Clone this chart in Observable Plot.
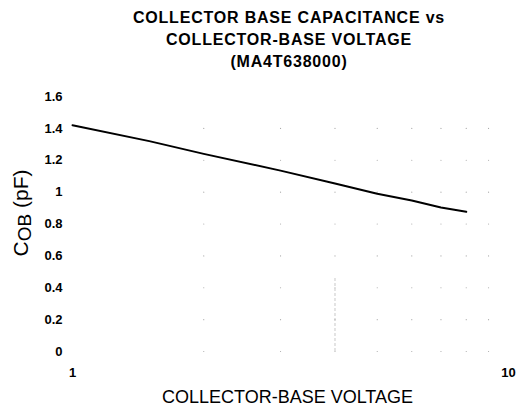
<!DOCTYPE html>
<html>
<head>
<meta charset="utf-8">
<script src="https://cdn.jsdelivr.net/npm/d3@7"></script>
<script src="https://cdn.jsdelivr.net/npm/@observablehq/plot@0.6"></script>
<style>
  body { margin: 0; background: #fff; font-family: "Liberation Sans", Arial, sans-serif; }
  #title { width: 516px; box-sizing: border-box; padding: 7px 0 0 62px; text-align: center;
           font-weight: bold; font-size: 16px; letter-spacing: 0.8px; line-height: 22px; color: #000; }
</style>
</head>
<body>
<div id="title">COLLECTOR BASE CAPACITANCE vs<br>COLLECTOR-BASE VOLTAGE<br>(MA4T638000)</div>
<div id="chart"></div>
<script>
const voltage = [1, 1.5, 2, 3, 4, 5, 6, 7, 8];
const capacitance = [1.42, 1.32, 1.24, 1.135, 1.054, 0.99, 0.947, 0.903, 0.877];
const yTicks = [0, 0.2, 0.4, 0.6, 0.8, 1, 1.2, 1.4, 1.6];
const xTicks = [1, 10];
const xGrid = [2, 3, 4, 5, 6, 7, 8, 9];
const yGrid = [0, 0.2, 0.4, 0.6, 0.8, 1, 1.2, 1.4];
const xTitle = "COLLECTOR-BASE VOLTAGE";

const curve = voltage.map((v, i) => ({v, c: capacitance[i]}));
const gridPts = xGrid.flatMap(x => yGrid.map(y => ({x, y})));

const plot = Plot.plot({
  width: 516,
  height: 338,
  marginTop: 23,
  marginBottom: 60,
  marginLeft: 72,
  marginRight: 8,
  style: {fontFamily: "Liberation Sans, Arial, sans-serif", background: "#fff", color: "#000"},
  x: {type: "log", domain: [1, 10]},
  y: {domain: [0, 1.6]},
  marks: [
    Plot.dot(gridPts, {x: "x", y: "y", r: 0.6, fill: "#aaa", stroke: null}),
    Plot.ruleX([4], {y1: 0, y2: 0.46, stroke: "#bbb", strokeWidth: 0.8, strokeDasharray: "3,2"}),
    Plot.line(curve, {x: "v", y: "c", stroke: "#000", strokeWidth: 2}),
    Plot.axisY({ticks: yTicks, tickSize: 0, tickPadding: 10, fontSize: 13, fontWeight: "bold",
                tickFormat: d => String(d), label: null}),
    Plot.axisX({ticks: xTicks, tickSize: 0, tickPadding: 16, fontSize: 13, fontWeight: "bold",
                tickFormat: d => String(d), label: null}),
    Plot.text([xTitle], {frameAnchor: "bottom", dx: -3, dy: 51, fontSize: 18, text: d => d, fill: "#000"})
  ]
});
document.getElementById("chart").appendChild(plot);

// Y axis title with subscript
const svg = d3.select(plot);
const t = svg.append("text")
  .attr("transform", "translate(28,140) rotate(-90)")
  .attr("text-anchor", "middle")
  .attr("font-size", 21)
  .attr("font-family", "Liberation Sans, Arial, sans-serif")
  .attr("fill", "#000");
t.append("tspan").text("C");
t.append("tspan").attr("dy", 3).attr("font-size", 19).text("OB");
t.append("tspan").attr("dy", -3).text(" (pF)");
</script>
</body>
</html>
